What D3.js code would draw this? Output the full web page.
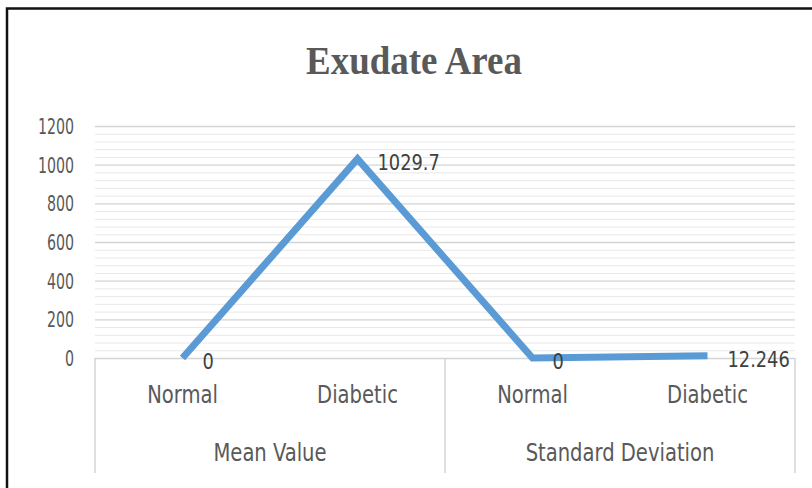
<!DOCTYPE html>
<html>
<head>
<meta charset="utf-8">
<script src="https://cdn.jsdelivr.net/npm/d3@7"></script>
<style>
  html, body { margin: 0; padding: 0; background: #fff; }
  svg { display: block; }
</style>
</head>
<body>
<svg id="chart" width="812" height="488"></svg>
<script>
// ---- data ----
const title = "Exudate Area";
const groups = ["Mean Value", "Standard Deviation"];
const categories = ["Normal", "Diabetic", "Normal", "Diabetic"];
const categoryGroup = [0, 0, 1, 1];
const values = [0, 1029.7, 0, 12.246];
const valueLabels = ["0", "1029.7", "0", "12.246"];
const yTicks = [0, 200, 400, 600, 800, 1000, 1200];
const yMinorStep = 40;

// ---- layout ----
const svg = d3.select("#chart");
const W = 812, H = 488;
const plot = { left: 95, right: 795, top: 126, bottom: 358 };
const condensed = "'DejaVu Sans Condensed', 'DejaVu Sans', sans-serif";
const textCol = "#595959";

svg.append("rect").attr("width", W).attr("height", H).attr("fill", "#fff");

// outer border (top and left visible)
svg.append("path")
  .attr("d", `M7,${H} L7,8.5 L${W},8.5`)
  .attr("fill", "none").attr("stroke", "#111").attr("stroke-width", 2.5);

// title
svg.append("text")
  .attr("x", 414).attr("y", 74)
  .attr("text-anchor", "middle")
  .attr("font-family", "'Liberation Serif', 'DejaVu Serif', serif")
  .attr("font-weight", "bold")
  .attr("font-size", 40)
  .attr("fill", textCol)
  .attr("textLength", 216)
  .attr("lengthAdjust", "spacingAndGlyphs")
  .text(title);

// scales
const x = d3.scaleBand().domain(d3.range(categories.length)).range([plot.left, plot.right]);
const y = d3.scaleLinear().domain([0, 1200]).range([plot.bottom, plot.top]);

// minor gridlines
const minor = d3.range(0, 1200 + 1, yMinorStep).filter(v => !yTicks.includes(v));
svg.append("g").selectAll("line").data(minor).join("line")
  .attr("x1", plot.left).attr("x2", plot.right)
  .attr("y1", d => y(d) + 0.5).attr("y2", d => y(d) + 0.5)
  .attr("stroke", "#e8e8e8").attr("stroke-width", 1);

// major gridlines
svg.append("g").selectAll("line").data(yTicks.filter(v => v > 0)).join("line")
  .attr("x1", plot.left).attr("x2", plot.right)
  .attr("y1", d => y(d) + 0.5).attr("y2", d => y(d) + 0.5)
  .attr("stroke", "#d4d4d4").attr("stroke-width", 1.3);

// y axis labels via d3 axis (condensed horizontally)
const yAxis = svg.append("g")
  .attr("transform", `translate(${plot.left - 21},0)`)
  .call(d3.axisLeft(y).tickValues(yTicks).tickFormat(d3.format("d")).tickSize(0).tickPadding(0));
yAxis.select(".domain").remove();
yAxis.selectAll(".tick text")
  .attr("x", 0)
  .attr("font-family", condensed).attr("font-size", 21).attr("fill", textCol)
  .attr("dy", "0.36em")
  .attr("transform", "scale(0.75,1)");

// x axis line
svg.append("line")
  .attr("x1", plot.left).attr("x2", plot.right)
  .attr("y1", plot.bottom + 0.5).attr("y2", plot.bottom + 0.5)
  .attr("stroke", "#d4d4d4").attr("stroke-width", 1.5);

// group dividers
const dividerX = [plot.left, x(2), plot.right];
svg.append("g").selectAll("line").data(dividerX).join("line")
  .attr("x1", d => d).attr("x2", d => d)
  .attr("y1", plot.bottom).attr("y2", 473)
  .attr("stroke", "#d4d4d4").attr("stroke-width", 1.5);

// category labels
svg.append("g").selectAll("text").data(categories).join("text")
  .attr("transform", (d, i) => `translate(${x(i) + x.bandwidth() / 2},403) scale(0.87,1)`)
  .attr("text-anchor", "middle")
  .attr("font-family", condensed).attr("font-size", 25).attr("fill", textCol)
  .text(d => d);

// group labels
svg.append("g").selectAll("text").data(groups).join("text")
  .attr("transform", (d, gi) => {
    const idx = categoryGroup.map((g, i) => g === gi ? i : -1).filter(i => i >= 0);
    const cx = (x(idx[0]) + x(idx[idx.length - 1]) + x.bandwidth()) / 2;
    return `translate(${cx},461) scale(0.87,1)`;
  })
  .attr("text-anchor", "middle")
  .attr("font-family", condensed).attr("font-size", 25).attr("fill", textCol)
  .text(d => d);

// line
const line = d3.line()
  .x((d, i) => x(i) + x.bandwidth() / 2)
  .y(d => y(d));
svg.append("path")
  .datum(values)
  .attr("d", line)
  .attr("fill", "none")
  .attr("stroke", "#5b9bd5")
  .attr("stroke-width", 7)
  .attr("stroke-linejoin", "miter");

// data labels
svg.append("g").selectAll("text").data(values).join("text")
  .attr("transform", (d, i) => `translate(${x(i) + x.bandwidth() / 2 + 20},${y(d) + 3}) scale(0.9,1)`)
  .attr("dy", "0.36em")
  .attr("font-family", condensed).attr("font-size", 22).attr("fill", "#404040")
  .text((d, i) => valueLabels[i]);
</script>
</body>
</html>
